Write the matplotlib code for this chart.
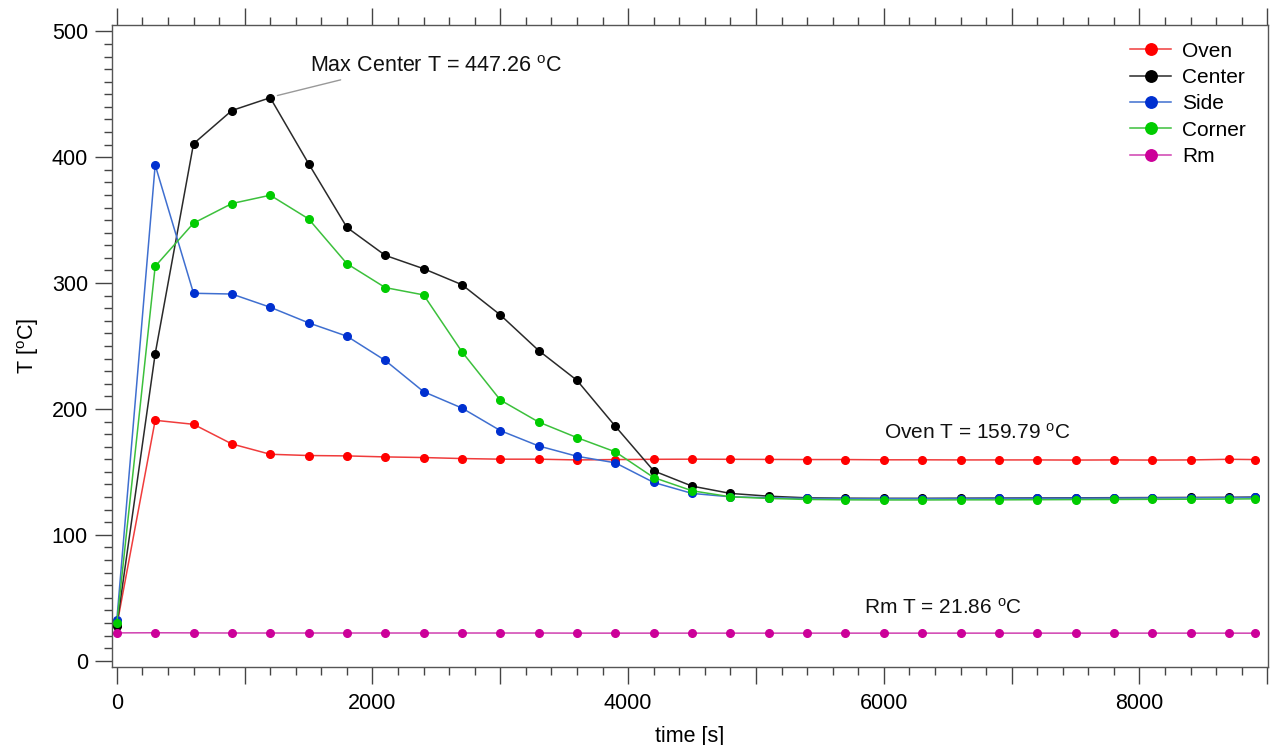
import matplotlib
matplotlib.use('Agg')
import matplotlib.pyplot as plt
from matplotlib.ticker import MultipleLocator, FuncFormatter

plt.rcParams['font.family'] = ['Liberation Sans', 'DejaVu Sans']
plt.rcParams['mathtext.fontset'] = 'custom'
plt.rcParams['mathtext.rm'] = 'Liberation Sans'
plt.rcParams['mathtext.it'] = 'Liberation Sans:italic'

# time stamps [s]
time_s = [0, 300, 600, 900, 1200, 1500, 1800, 2100, 2400, 2700,
          3000, 3300, 3600, 3900, 4200, 4500, 4800, 5100, 5400, 5700,
          6000, 6300, 6600, 6900, 7200, 7500, 7800, 8100, 8400, 8700, 8900]

oven = [28.0, 191.0, 187.8, 172.2, 164.0, 163.0, 162.7, 161.9, 161.4, 160.6,
        160.1, 160.1, 159.5, 159.8, 160.0, 160.1, 160.0, 159.9, 159.8, 159.8,
        159.6, 159.6, 159.5, 159.5, 159.5, 159.4, 159.5, 159.4, 159.5, 160.0, 159.79]
center = [27.7, 243.8, 410.7, 437.1, 447.26, 394.9, 344.2, 322.0, 311.4, 298.7,
          274.7, 246.4, 222.7, 186.2, 150.8, 138.7, 132.9, 130.7, 129.4, 129.1,
          129.0, 129.0, 129.1, 129.2, 129.3, 129.4, 129.5, 129.6, 129.7, 129.8, 130.0]
side = [32.5, 393.8, 291.9, 291.3, 280.8, 268.4, 257.8, 238.5, 213.7, 200.7,
        182.8, 170.6, 162.4, 157.2, 141.6, 132.9, 130.2, 129.5, 128.9, 128.7,
        128.7, 128.7, 128.8, 128.9, 129.0, 129.1, 129.2, 129.3, 129.4, 129.5, 129.7]
corner = [29.9, 313.3, 347.6, 363.2, 369.8, 351.0, 315.4, 296.4, 290.6, 245.4,
          207.1, 189.6, 177.2, 165.9, 145.5, 135.0, 130.2, 128.9, 128.1, 127.8,
          127.7, 127.7, 127.8, 127.8, 127.9, 128.0, 128.1, 128.2, 128.3, 128.4, 128.6]
rm = [22.1, 22.2, 22.1, 22.0, 22.0, 22.0, 22.0, 22.0, 22.0, 22.0,
      22.0, 22.0, 21.9, 21.9, 21.9, 21.9, 21.9, 21.9, 21.9, 21.9,
      21.9, 21.9, 21.9, 21.9, 21.9, 21.9, 21.9, 21.9, 21.9, 21.9, 21.86]

series = [
    ('Oven', oven, '#f03c3c', '#ff0000'),
    ('Center', center, '#2a2a2a', '#000000'),
    ('Side', side, '#3f6fd0', '#0030d0'),
    ('Corner', corner, '#3cc03c', '#00cc00'),
    ('Rm', rm, '#d040b0', '#cc0099'),
]

fig = plt.figure(figsize=(12.71, 7.45), dpi=100)
ax = fig.add_axes([0.0881, 0.1047, 0.9095, 0.8617])

for name, vals, lc, mc in series:
    ax.plot(time_s, vals, '-o', color=lc, lw=1.1, markersize=5.5,
            markerfacecolor=mc, markeredgecolor=mc, label=name)

ax.set_xlim(-38, 9005)
ax.set_ylim(-5, 505)

# ticks
ax.xaxis.set_major_locator(MultipleLocator(1000))
ax.xaxis.set_minor_locator(MultipleLocator(200))
ax.xaxis.set_major_formatter(FuncFormatter(lambda v, p: '%d' % v if v % 2000 == 0 else ''))
ax.yaxis.set_major_locator(MultipleLocator(100))
ax.yaxis.set_minor_locator(MultipleLocator(10))
ax.tick_params(axis='x', which='both', direction='out', top=True, bottom=True,
               color='#444444', labelsize=15.5, pad=9)
ax.tick_params(axis='y', which='both', direction='out', left=True, right=False,
               color='#444444', labelsize=15.5, pad=5.3)
ax.tick_params(which='major', length=9.5, width=1)
ax.tick_params(which='minor', length=6, width=1)
ax.tick_params(axis='y', which='major', length=12)
for t in ax.xaxis.get_major_ticks():
    if round(t.get_loc()) % 2000 == 0:
        t.tick1line.set_markersize(12)
        t.tick2line.set_markersize(12)

for s in ax.spines.values():
    s.set_color('#555555')
    s.set_linewidth(1)

ax.set_xlabel('time [s]', fontsize=15.5, labelpad=9)
ax.set_ylabel('T [$^{\\mathrm{o}}$C]', fontsize=15.5, labelpad=8)

# annotations
ax.annotate('Max Center T = 447.26 $^{\\mathrm{o}}$C', xy=(1256, 449), xytext=(1510, 472),
            fontsize=15.5, va='center', ha='left', color='#111111',
            arrowprops=dict(arrowstyle='-', color='#999999', lw=1,
                            shrinkA=0, shrinkB=0, relpos=(0.2, 0.1)))
ax.text(6000, 181.5, 'Oven T = 159.79 $^{\\mathrm{o}}$C', fontsize=15, va='center', color='#111111')
ax.text(5845, 42, 'Rm T = 21.86 $^{\\mathrm{o}}$C', fontsize=15, va='center', color='#111111')

leg = ax.legend(loc='upper right', frameon=False, fontsize=15, handlelength=2.0,
                markerscale=1.5, labelspacing=0.35, borderaxespad=0.4,
                handletextpad=0.5, bbox_to_anchor=(0.995, 1.0))

fig.savefig('out.png', dpi=100, facecolor='white')
